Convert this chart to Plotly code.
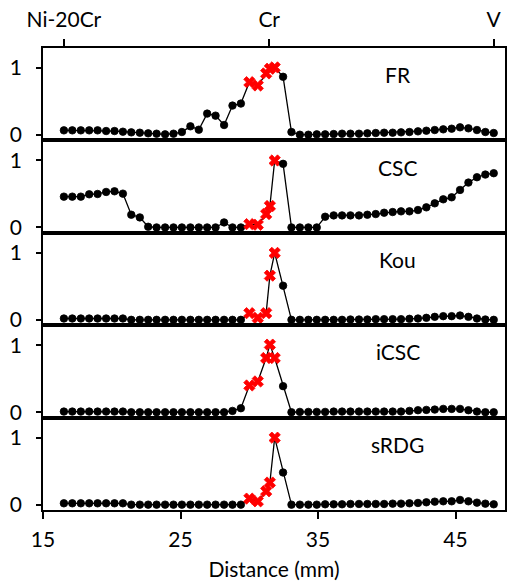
import plotly.graph_objects as go
from plotly.subplots import make_subplots

# Distance positions (mm); includes the pure-Cr point at 31.50
distance = [16.52, 17.13, 17.75, 18.36, 18.97, 19.59, 20.20, 20.81, 21.42, 22.04,
            22.65, 23.26, 23.88, 24.49, 25.10, 25.72, 26.33, 26.94, 27.55, 28.17,
            28.78, 29.39, 30.01, 30.62, 31.23, 31.50, 31.85, 32.46, 33.07, 33.68,
            34.30, 34.91, 35.52, 36.14, 36.75, 37.36, 37.98, 38.59, 39.20, 39.81,
            40.43, 41.04, 41.65, 42.27, 42.88, 43.49, 44.11, 44.72, 45.33, 45.94,
            46.56, 47.17, 47.78]

# 1 = highlighted (red cross) point
highlight = [0]*22 + [1, 1, 1, 1, 1] + [0]*26

fr = [0.07, 0.07, 0.07, 0.07, 0.07, 0.06, 0.06, 0.05, 0.04, 0.035,
      0.025, 0.02, 0.01, 0.02, 0.045, 0.13, 0.08, 0.32, 0.29, 0.15,
      0.44, 0.47, 0.79, 0.74, 0.92, 0.99, 1.01, 0.87, 0.045, 0.005,
      0.005, 0.01, 0.01, 0.015, 0.02, 0.02, 0.02, 0.025, 0.03, 0.035,
      0.035, 0.04, 0.045, 0.055, 0.065, 0.075, 0.085, 0.095, 0.115, 0.10,
      0.075, 0.045, 0.03]

csc = [0.46, 0.46, 0.46, 0.495, 0.50, 0.53, 0.54, 0.505, 0.19, 0.15,
       0.01, 0.0, 0.0, 0.0, 0.0, 0.0, 0.0, 0.0, 0.0, 0.075,
       0.0, 0.0, 0.05, 0.04, 0.20, 0.32, 1.0, 0.95, 0.0, 0.0,
       0.0, 0.0, 0.16, 0.18, 0.18, 0.18, 0.18, 0.19, 0.20, 0.22,
       0.23, 0.24, 0.24, 0.26, 0.30, 0.36, 0.42, 0.45, 0.56, 0.67,
       0.75, 0.79, 0.81]

kou = [0.02, 0.02, 0.02, 0.02, 0.02, 0.02, 0.02, 0.02, 0.0, 0.0,
       0.0, 0.0, 0.0, 0.0, 0.0, 0.0, 0.0, 0.0, 0.0, 0.0,
       0.0, 0.0, 0.10, 0.03, 0.10, 0.66, 1.0, 0.51, 0.0, 0.0,
       0.0, 0.0, 0.0, 0.0, 0.0, 0.005, 0.005, 0.005, 0.01, 0.01,
       0.01, 0.01, 0.015, 0.02, 0.03, 0.045, 0.055, 0.055, 0.065, 0.045,
       0.02, 0.005, 0.0]

icsc = [0.01, 0.01, 0.01, 0.01, 0.01, 0.01, 0.01, 0.01, 0.0, 0.0,
        0.0, 0.0, 0.0, 0.0, 0.0, 0.0, 0.0, 0.0, 0.0, 0.0,
        0.02, 0.06, 0.40, 0.46, 0.81, 1.01, 0.81, 0.39, 0.0, 0.005,
        0.005, 0.005, 0.005, 0.01, 0.01, 0.01, 0.01, 0.01, 0.01, 0.01,
        0.01, 0.01, 0.02, 0.03, 0.035, 0.04, 0.05, 0.05, 0.05, 0.03,
        0.01, 0.0, 0.0]

srdg = [0.02, 0.02, 0.02, 0.02, 0.02, 0.02, 0.02, 0.02, 0.0, 0.0,
        0.0, 0.0, 0.0, 0.0, 0.0, 0.0, 0.0, 0.0, 0.0, 0.0,
        0.0, 0.0, 0.09, 0.05, 0.20, 0.33, 1.0, 0.48, 0.0, 0.0,
        0.0, 0.0, 0.005, 0.005, 0.005, 0.01, 0.01, 0.01, 0.01, 0.01,
        0.015, 0.015, 0.02, 0.025, 0.035, 0.045, 0.05, 0.05, 0.07, 0.05,
        0.03, 0.015, 0.005]

panel_names = ["FR", "CSC", "Kou", "iCSC", "sRDG"]
panel_values = [fr, csc, kou, icsc, srdg]

x_ticks = [15, 25, 35, 45]
top_tick_pos = [16.52, 31.45, 47.78]
top_tick_text = ["Ni-20Cr", "Cr", "V"]

FONT = "Lato"
FS = 21

fig = make_subplots(rows=5, cols=1, shared_xaxes=True, vertical_spacing=0)

symbols = ["x" if h else "circle" for h in highlight]
colors = ["#ff0000" if h else "#000000" for h in highlight]
sizes = [10 if h else 7.5 for h in highlight]

for i, (name, vals) in enumerate(zip(panel_names, panel_values), start=1):
    fig.add_trace(go.Scatter(
        x=distance, y=vals, mode="lines+markers",
        line=dict(color="black", width=1.3),
        marker=dict(symbol=symbols, color=colors, size=sizes, opacity=1,
                    line=dict(width=0.8, color=colors)),
        showlegend=False, hoverinfo="skip"), row=i, col=1)
    fig.add_annotation(x=40.8, y=0.9, xref=f"x{i}" if i > 1 else "x",
                       yref=f"y{i}" if i > 1 else "y", text=name, showarrow=False,
                       font=dict(family=FONT, size=FS, color="black"),
                       xanchor="center", yanchor="middle")
    fig.update_yaxes(row=i, col=1, range=[-0.08, 1.3], tickvals=[0, 1],
                     ticks="outside", ticklen=5, tickwidth=1.5, tickcolor="black",
                     ticklabelstandoff=10,
                     showline=True, linecolor="black", linewidth=1.6, mirror=True,
                     showgrid=False, zeroline=False,
                     tickfont=dict(family=FONT, size=FS, color="black"))
    fig.update_xaxes(row=i, col=1, range=[15, 48.6], showline=True,
                     linecolor="black", linewidth=1.6, mirror=True,
                     showgrid=False, zeroline=False, ticks="", showticklabels=False)

# top axis labels on first panel
fig.update_xaxes(row=1, col=1, side="top", tickvals=top_tick_pos,
                 ticktext=top_tick_text, ticks="outside", ticklen=7, tickwidth=1.5,
                 tickcolor="black", showticklabels=True, ticklabelstandoff=4,
                 tickfont=dict(family=FONT, size=FS, color="black"))
# bottom axis
fig.update_xaxes(row=5, col=1, tickvals=x_ticks, ticks="outside", ticklen=7,
                 tickwidth=1.5, tickcolor="black", showticklabels=True,
                 ticklabelstandoff=3,
                 tickfont=dict(family=FONT, size=FS, color="black"),
                 title=dict(text="Distance (mm)", standoff=12,
                            font=dict(family=FONT, size=FS, color="black")))

fig.update_layout(width=508, height=585, margin=dict(l=43, r=1, t=48, b=75),
                  paper_bgcolor="white", plot_bgcolor="white",
                  font=dict(family=FONT, size=FS, color="black"))

fig.write_html("out.html")
